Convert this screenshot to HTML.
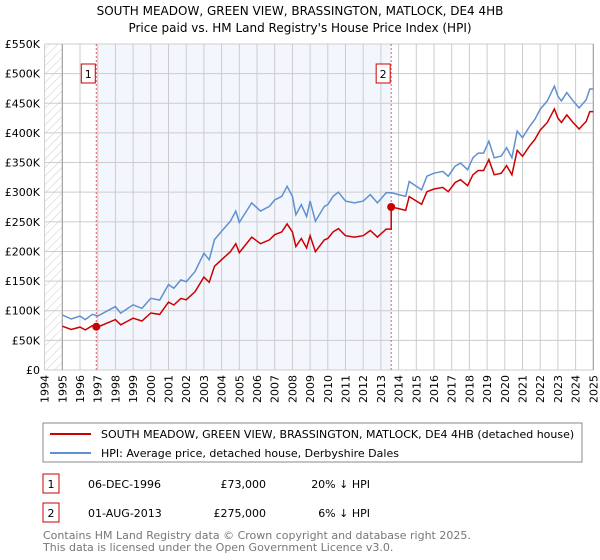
<!DOCTYPE html>
<html><head><meta charset="utf-8"><style>
body{margin:0;background:#fff;font-family:"Liberation Sans","DejaVu Sans",sans-serif;}
svg{display:block}
</style></head><body>
<svg width="600" height="560" xmlns="http://www.w3.org/2000/svg" font-family="DejaVu Sans, Liberation Sans, sans-serif">
<defs><pattern id="hatch" width="6" height="6" patternUnits="userSpaceOnUse" patternTransform="rotate(45)"><line x1="0" y1="0" x2="0" y2="6" stroke="#ccc" stroke-width="1"/></pattern></defs>
<text x="300" y="15" text-anchor="middle" font-size="12">SOUTH MEADOW, GREEN VIEW, BRASSINGTON, MATLOCK, DE4 4HB</text>
<text x="300" y="32" text-anchor="middle" font-size="12">Price paid vs. HM Land Registry's House Price Index (HPI)</text>
<g id="plot"></g>
<rect x="43" y="423" width="539" height="39" fill="#fff" stroke="#888"/>
<line x1="50" y1="434" x2="91" y2="434" stroke="#cc0000" stroke-width="2"/>
<text x="101" y="438" font-size="11">SOUTH MEADOW, GREEN VIEW, BRASSINGTON, MATLOCK, DE4 4HB (detached house)</text>
<line x1="50" y1="453" x2="91" y2="453" stroke="#6090d0" stroke-width="2"/>
<text x="101" y="457" font-size="11">HPI: Average price, detached house, Derbyshire Dales</text>
<g font-size="11">
<rect x="43" y="474" width="16" height="19" fill="#fff" stroke="#cc0000"/>
<text x="51" y="488" text-anchor="middle">1</text>
<text x="88" y="488">06-DEC-1996</text>
<text x="266" y="488" text-anchor="end">£73,000</text>
<text x="370" y="488" text-anchor="end">20% ↓ HPI</text>
<rect x="43" y="503" width="16" height="19" fill="#fff" stroke="#cc0000"/>
<text x="51" y="517" text-anchor="middle">2</text>
<text x="88" y="517">01-AUG-2013</text>
<text x="266" y="517" text-anchor="end">£275,000</text>
<text x="370" y="517" text-anchor="end">6% ↓ HPI</text>
</g>
<text x="43" y="539" font-size="11" fill="#777">Contains HM Land Registry data © Crown copyright and database right 2025.</text>
<text x="43" y="551" font-size="11" fill="#777">This data is licensed under the Open Government Licence v3.0.</text>
</svg>
<script>
const hpiYears=[1995,1995.5,1996,1996.3,1996.7,1997,1997.5,1998,1998.3,1999,1999.5,2000,2000.5,2001,2001.3,2001.7,2002,2002.5,2003,2003.3,2003.6,2004,2004.5,2004.8,2005,2005.7,2006.2,2006.7,2007,2007.4,2007.7,2008,2008.2,2008.5,2008.8,2009,2009.3,2009.8,2010,2010.3,2010.6,2011,2011.5,2012,2012.4,2012.8,2013.3,2013.6,2014,2014.4,2014.6,2015,2015.3,2015.6,2016,2016.5,2016.8,2017.2,2017.5,2017.9,2018.2,2018.5,2018.8,2019.1,2019.4,2019.8,2020.1,2020.4,2020.7,2021,2021.4,2021.7,2022,2022.4,2022.8,2023,2023.2,2023.5,2023.8,2024.2,2024.6,2024.8,2025];
const hpiValues=[93,86,91,85,94,91,99,107,96,110,104,121,118,144,138,152,149,166,197,186,220,234,251,268,249,282,268,276,287,293,310,293,262,279,259,285,251,276,279,293,300,285,282,285,296,282,299,299,296,293,318,310,304,327,332,335,327,344,349,338,358,366,366,386,358,361,375,358,403,392,411,423,440,454,479,462,454,468,456,442,456,474,474];
const saleYears=[1996.92,2013.58];
const salePrices=[73,275];
const yTicks=[0,50,100,150,200,250,300,350,400,450,500,550];
const xTicks=[1994,1995,1996,1997,1998,1999,2000,2001,2002,2003,2004,2005,2006,2007,2008,2009,2010,2011,2012,2013,2014,2015,2016,2017,2018,2019,2020,2021,2022,2023,2024,2025];
const NS='http://www.w3.org/2000/svg';
const X0=44.6,X1=593.3,Y0=370,Y1=44;
const xs=y=>X0+(y-1994)/31*(X1-X0);
const ys=v=>Y0-v/550*(Y0-Y1);
const g=document.getElementById('plot');
function mk(t,a){const e=document.createElementNS(NS,t);for(const k in a)e.setAttribute(k,a[k]);g.appendChild(e);return e;}
let e;
e=mk('rect',{x:X0,y:Y1,width:xs(1995)-X0,height:Y0-Y1,fill:'url(#hatch)'});


e=mk('rect',{x:xs(saleYears[0]),y:Y1,width:xs(saleYears[1])-xs(saleYears[0]),height:Y0-Y1,fill:'#eef3fc',opacity:0.7});


yTicks.forEach(v=>{
 e=mk('line',{x1:X0,x2:X1,y1:ys(v),y2:ys(v),stroke:'#ccc'});
 
 
 e=mk('text',{x:40,y:ys(v)+4,'text-anchor':'end','font-size':11});
 e.textContent=v===0?'£0':'£'+v+'K';
 
 
});
xTicks.forEach(y=>{
 e=mk('line',{x1:xs(y),x2:xs(y),y1:Y1,y2:Y0,stroke:'#ccc'});
 
 
 e=mk('text',{x:0,y:0,'text-anchor':'end','font-size':11,transform:`translate(${xs(y)+4},${Y0+5}) rotate(-90)`});
 e.textContent=y;
 
 
});
e=mk('line',{x1:xs(1995),x2:xs(1995),y1:Y1,y2:Y0,stroke:'#999'});


e=mk('line',{x1:X1,x2:X1,y1:Y1,y2:Y0,stroke:'#999'});


function hpiAt(t){for(let i=0;i<hpiYears.length-1;i++){if(t<=hpiYears[i+1]){const f=(t-hpiYears[i])/(hpiYears[i+1]-hpiYears[i]);return hpiValues[i]+f*(hpiValues[i+1]-hpiValues[i]);}}return hpiValues[hpiValues.length-1];}
const r1=salePrices[0]/hpiAt(saleYears[0]),r2=salePrices[1]/hpiAt(saleYears[1]);
saleYears.forEach((s,i)=>{
 e=mk('line',{x1:xs(s),x2:xs(s),y1:Y1,y2:Y0,stroke:'#e06060','stroke-dasharray':'2,2'});
 
 
 e=mk('rect',{x:xs(s)-15,y:64,width:14,height:19,fill:'#fff',stroke:'#cc0000'});
 
 
 e=mk('text',{x:xs(s)-8,y:78,'text-anchor':'middle','font-size':11});
 e.textContent=String(i+1);
 
 
});
let hp='',rp='';
hpiYears.forEach((y,i)=>{hp+=(i?'L':'M')+xs(y).toFixed(1)+','+ys(hpiValues[i]).toFixed(1);});
const redPts=[];
hpiYears.forEach((y,i)=>{if(y<saleYears[1])redPts.push([y,hpiValues[i]*r1]);});
redPts.push([saleYears[1],hpiAt(saleYears[1])*r1]);
redPts.push([saleYears[1],salePrices[1]]);
hpiYears.forEach((y,i)=>{if(y>saleYears[1])redPts.push([y,hpiValues[i]*r2]);});
redPts.forEach((p,i)=>{rp+=(i?'L':'M')+xs(p[0]).toFixed(1)+','+ys(p[1]).toFixed(1);});
e=mk('path',{d:hp,fill:'none',stroke:'#6090d0','stroke-width':1.5});


e=mk('path',{d:rp,fill:'none',stroke:'#cc0000','stroke-width':1.5});


saleYears.forEach((s,i)=>{
 e=mk('circle',{cx:xs(s),cy:ys(salePrices[i]),r:4,fill:'#cc0000'});
 
 
});
</script>
</body></html>
